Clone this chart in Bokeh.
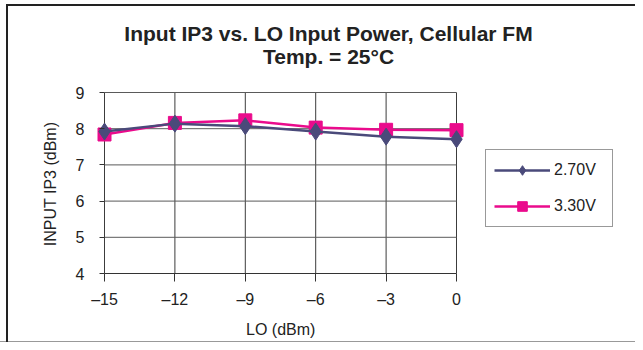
import math
from bokeh.plotting import figure
from bokeh.models import Range1d, FixedTicker, Label, Legend, LegendItem
from bokeh.embed import file_html
from bokeh.resources import INLINE

# ---- data ----
lo_dbm = [-15, -12, -9, -6, -3, 0]
ip3_270v = [7.92, 8.14, 8.07, 7.92, 7.78, 7.71]
ip3_330v = [7.84, 8.16, 8.23, 8.03, 7.97, 7.96]
series_names = ["2.70V", "3.30V"]
x_ticks = [-15, -12, -9, -6, -3, 0]
x_tick_labels = ["\u201315", "\u201312", "\u20139", "\u20136", "\u20133", "0"]
y_ticks = [4, 5, 6, 7, 8, 9]
title_line1 = "Input IP3 vs. LO Input Power, Cellular FM"
title_line2 = "Temp. = 25\u00b0C"
x_label = "LO (dBm)"
y_label = "INPUT IP3 (dBm)"

# ---- layout (pixels) ----
W, H = 635, 342
FRAME_L, FRAME_R, FRAME_T, FRAME_B = 95, 630, 5, 273
X0_PX, X1_PX = 104, 456          # where x = -15 and x = 0 sit
Y9_PX = 92                        # where y = 9 sits
px_x = (X1_PX - X0_PX) / (x_ticks[-1] - x_ticks[0])
px_y = (FRAME_B - Y9_PX) / (y_ticks[-1] - y_ticks[0])
x_range = Range1d(x_ticks[0] - (X0_PX - FRAME_L) / px_x, x_ticks[-1] + (FRAME_R - X1_PX) / px_x)
y_range = Range1d(y_ticks[0], y_ticks[-1] + (Y9_PX - FRAME_T) / px_y)

FONT = "Liberation Sans"
NAVY = "#4a4a7a"
MAGENTA = "#ea0b8c"
TXT = "#222222"
NBSP = "\u00a0"

p = figure(width=W, height=H, output_backend="svg", toolbar_location=None, title=None,
           x_range=x_range, y_range=y_range,
           min_border_left=FRAME_L, min_border_bottom=H - FRAME_B)
p.outline_line_color = None
p.background_fill_alpha = 0
p.border_fill_alpha = 0
p.styles = {"background": "linear-gradient(#222,#222) 6px 4px / 2px 400px no-repeat, "
                          "linear-gradient(#222,#222) 6px 4px / 800px 2px no-repeat, "
                          "linear-gradient(#999,#999) 0px 341px / 800px 1px no-repeat, #ffffff"}
p.xgrid.visible = False
p.ygrid.visible = False

# axes
for ax in p.xaxis:
    ax.bounds = (x_ticks[0], x_ticks[-1])
    ax.ticker = FixedTicker(ticks=x_ticks)
    ax.major_label_overrides = {t: l for t, l in zip(x_ticks, x_tick_labels)}
    ax.major_tick_out = 8
    ax.major_tick_in = 0
    ax.major_label_standoff = 9
    # trailing non-breaking spaces keep the visible title centred under the data area
    ax.axis_label = x_label + NBSP * 37
    ax.axis_label_standoff = 10
    ax.axis_line_color = "#333333"
for ax in p.yaxis:
    ax.bounds = (y_ticks[0], y_ticks[-1])
    ax.ticker = FixedTicker(ticks=y_ticks)
    ax.major_tick_out = -4
    ax.major_tick_in = 9
    ax.major_label_standoff = 11
    ax.axis_label = y_label + NBSP * 20
    ax.axis_label_standoff = 14
    ax.axis_line_color = None
for ax in list(p.xaxis) + list(p.yaxis):
    ax.minor_tick_out = 0
    ax.minor_tick_in = 0
    ax.major_tick_line_color = "#333333"
    ax.major_label_text_font = FONT
    ax.major_label_text_font_size = "16px"
    ax.major_label_text_color = TXT
    ax.axis_label_text_font = FONT
    ax.axis_label_text_font_size = "16px"
    ax.axis_label_text_font_style = "normal"
    ax.axis_label_text_color = TXT

# grid lines limited to the data area
n, m = len(x_ticks), len(y_ticks)
p.segment(x0=x_ticks, y0=[y_ticks[0]] * n, x1=x_ticks, y1=[y_ticks[-1]] * n,
          line_color="#3c3c3c", line_width=1, level="underlay")
p.segment(x0=[x_ticks[0]] * m, y0=y_ticks, x1=[x_ticks[-1]] * m, y1=y_ticks,
          line_color="#5a5a5a", line_width=1, level="underlay")

# series (3.30V first so the diamonds sit on top)
l2 = p.line(lo_dbm, ip3_330v, line_color=MAGENTA, line_width=2.5)
m2 = p.scatter(lo_dbm, ip3_330v, marker="square", size=13,
               fill_color=MAGENTA, line_color=MAGENTA)
l1 = p.line(lo_dbm, ip3_270v, line_color=NAVY, line_width=2.5)
m1 = p.scatter(lo_dbm, ip3_270v, marker="diamond", size=17,
               fill_color=NAVY, line_color=NAVY)

legend = Legend(items=[LegendItem(label=series_names[0], renderers=[l1, m1]),
                       LegendItem(label=series_names[1], renderers=[l2, m2])],
                location=(390, 46), padding=8, spacing=12, margin=0,
                glyph_width=56, glyph_height=24, label_standoff=4, label_width=50,
                label_text_font=FONT, label_text_font_size="16px", label_text_color=TXT,
                border_line_color="#333333", border_line_width=1,
                background_fill_color="white", background_fill_alpha=1)
p.add_layout(legend, "center")

# chart title (screen units, relative to the frame's bottom-left)
def add_text(px, py, text, size, style="normal", align="center"):
    p.add_layout(Label(x=px - FRAME_L, y=FRAME_B - py, x_units="screen", y_units="screen",
                       text=text, text_align=align, text_baseline="middle",
                       text_font=FONT, text_font_size=size, text_font_style=style,
                       text_color=TXT))

add_text(328, 33, title_line1, "21px", "bold")
add_text(328, 56, title_line2, "21px", "bold")

open("out.html", "w").write(file_html(p, INLINE))
